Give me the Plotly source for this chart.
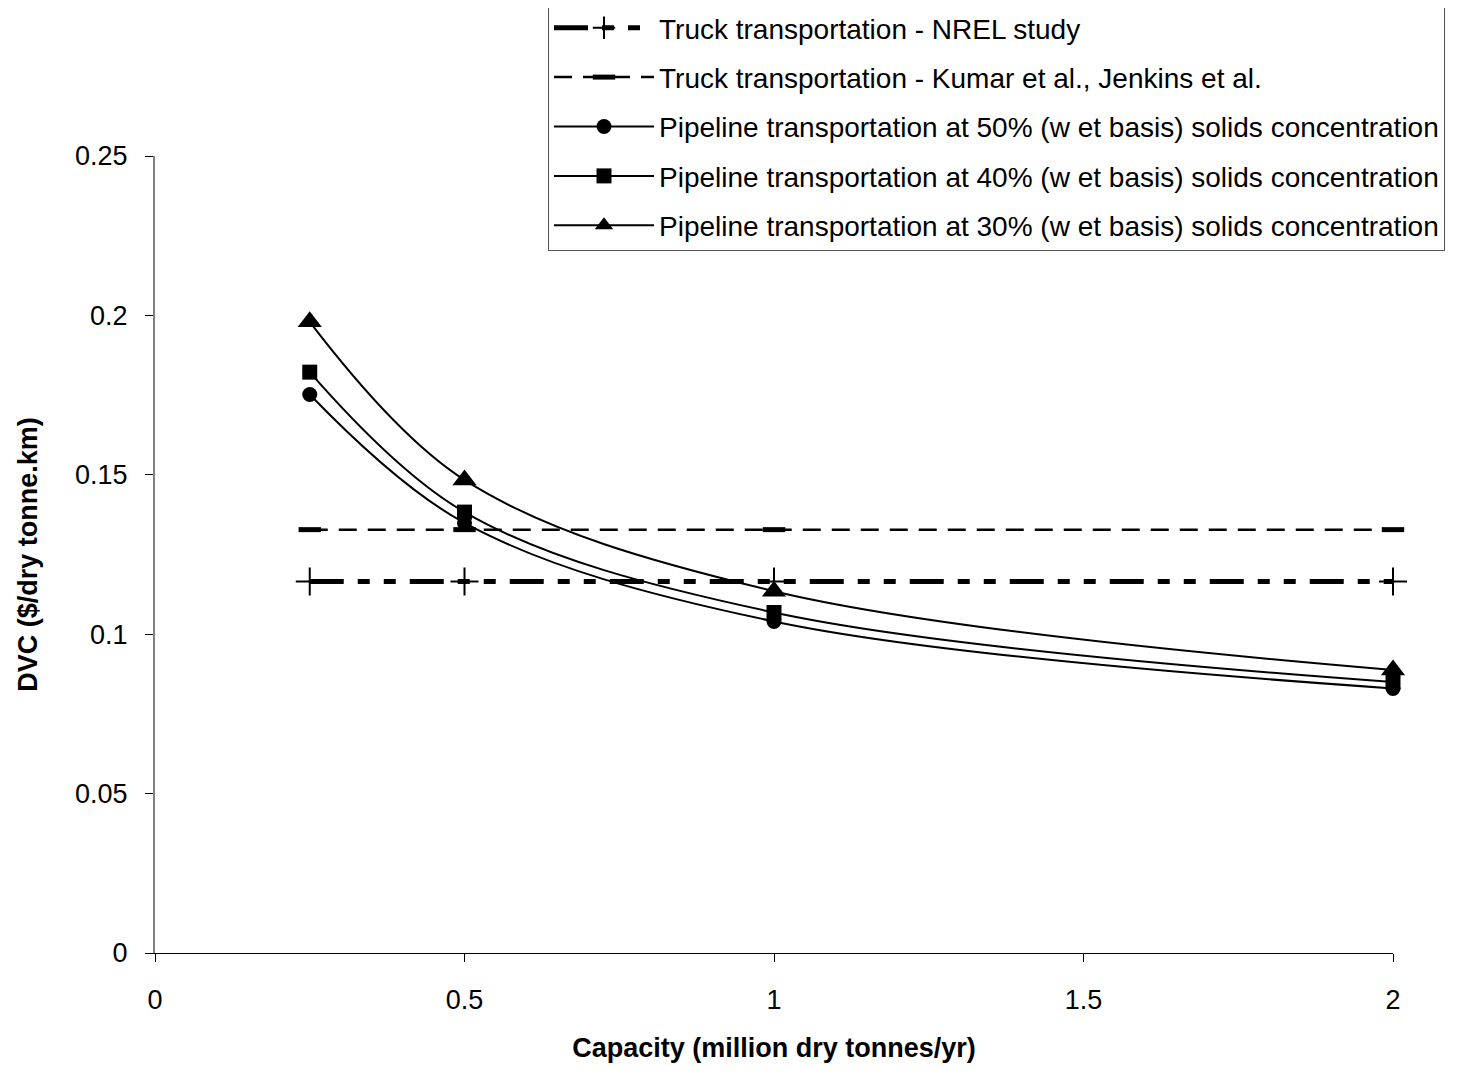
import plotly.graph_objects as go

capacity = [0.25, 0.5, 1, 2]
truck_nrel = [0.1165, 0.1165, 0.1165, 0.1165]
truck_kumar = [0.1328, 0.1328, 0.1328, 0.1328]
pipe50 = [0.1752, 0.1349, 0.1040, 0.0830]
pipe40 = [0.1822, 0.1383, 0.1068, 0.0850]
pipe30 = [0.1980, 0.1484, 0.1135, 0.0888]

names = [
    "Truck transportation - NREL study",
    "Truck transportation - Kumar et al., Jenkins et al.",
    "Pipeline transportation at 50% (w et basis) solids concentration",
    "Pipeline transportation at 40% (w et basis) solids concentration",
    "Pipeline transportation at 30% (w et basis) solids concentration",
]

FONT = "Arial, Liberation Sans, sans-serif"
FS = 27

fig = go.Figure()
fig.add_trace(go.Scatter(
    x=capacity, y=truck_nrel, name=names[0], mode="lines+markers", legendgroup="g0",
    line=dict(color="black", width=5, dash="34px,14px,12px,14px,12px,14px"),
    marker=dict(symbol="cross-thin", size=20, line=dict(color="black", width=2)),
    cliponaxis=False,
))
fig.add_trace(go.Scatter(
    x=capacity, y=truck_kumar, name=names[1], mode="lines+markers", legendgroup="g1",
    line=dict(color="black", width=2.5, dash="18px,11px"),
    marker=dict(symbol="line-ew", size=16, line=dict(color="black", width=5)),
    cliponaxis=False,
))
for i, (ys, nm, sym, sz) in enumerate([(pipe50, names[2], "circle", 15),
                                        (pipe40, names[3], "square", 15),
                                        (pipe30, names[4], "triangle-up", 21)]):
    fig.add_trace(go.Scatter(
        x=capacity, y=ys, name=nm, mode="lines+markers", legendgroup="g%d" % (i + 2),
        line=dict(color="black", width=2, shape="spline", smoothing=1),
        marker=dict(symbol=sym, size=sz, color="black"),
        cliponaxis=False,
    ))

fig.update_layout(
    width=1470, height=1069,
    margin=dict(l=147, r=85, t=148, b=124, autoexpand=False),
    paper_bgcolor="white", plot_bgcolor="white",
    font=dict(family=FONT, size=FS, color="black"),
    showlegend=True,
    legend=dict(
        x=(540 - 147) / 1238.0, xanchor="left",
        y=1.0 + 154 / 797.0, yanchor="top",
        bgcolor="white", bordercolor="#555555", borderwidth=1,
        font=dict(family=FONT, size=28, color="black"),
        itemwidth=100, tracegroupgap=10,
    ),
    xaxis=dict(
        range=[0, 2], tickvals=[0, 0.5, 1, 1.5, 2], ticktext=["0", "0.5", "1", "1.5", "2"],
        showgrid=False, zeroline=False, showline=True, linecolor="black", linewidth=1,
        ticks="outside", ticklen=8, tickcolor="black", tickwidth=1,
        tickfont=dict(size=FS), ticklabelstandoff=15,
        title=dict(text="<b>Capacity (million dry tonnes/yr)</b>", font=dict(size=FS), standoff=23),
    ),
    yaxis=dict(
        range=[0, 0.25], tickvals=[0, 0.05, 0.1, 0.15, 0.2, 0.25],
        ticktext=["0", "0.05", "0.1", "0.15", "0.2", "0.25"],
        showgrid=False, zeroline=False, showline=True, linecolor="#808080", linewidth=2,
        ticks="outside", ticklen=8, tickcolor="black", tickwidth=1,
        tickfont=dict(size=FS), ticklabelstandoff=12,
        title=dict(text="<b>DVC ($/dry tonne.km)</b>", font=dict(size=FS), standoff=30),
    ),
)

fig.write_html("out.html")
